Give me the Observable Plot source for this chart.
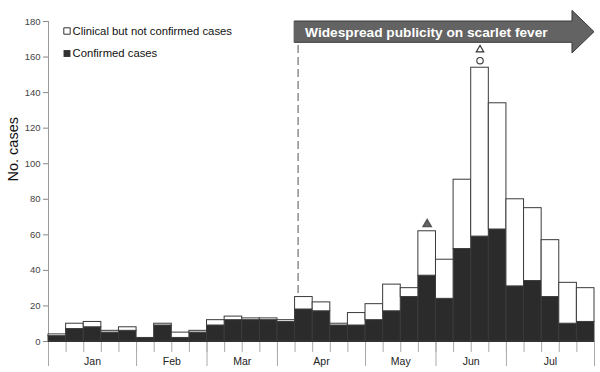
<!DOCTYPE html>
<html><head><meta charset="utf-8">
<script src="https://cdn.jsdelivr.net/npm/d3@7"></script>
<script src="https://cdn.jsdelivr.net/npm/@observablehq/plot@0.6"></script>
<style>
body{margin:0;background:#fff}
svg{display:block}
</style>
</head><body><div id="chart"></div>
<script>
// Weekly cases, January–July (31 weeks)
const confirmed    = [3,7,8,5,6,2,9,2,5,9,12,12,12,11,18,17,9,9,12,17,25,37,24,52,59,63,31,34,25,10,11];
const notConfirmed = [1,3,3,1,2,0,1,3,1,3,2,1,1,1,7,5,1,7,9,15,5,25,22,39,95,71,49,41,32,23,19];
const monthNames = ["Jan","Feb","Mar","Apr","May","Jun","Jul"];
const monthWeeks = [5,4,4,5,4,4,5];
const yTicks = [0,20,40,60,80,100,120,140,160,180];
const publicityWeek = 14;
const publicityLabel = "Widespread publicity on scarlet fever";
const legendLabels = ["Clinical but not confirmed cases","Confirmed cases"];
const yLabel = "No. cases";
const filledTriangleWeeks = [21];
const openTriangleWeeks = [24];
const circleWeeks = [24];

const n = confirmed.length;
const weeks = d3.range(n);
const total = weeks.map(i => confirmed[i] + notConfirmed[i]);
const weekBoundaries = d3.range(n + 1);
const monthBoundaries = [0, ...d3.cumsum(monthWeeks)];
const monthCenters = monthWeeks.map((w, i) => monthBoundaries[i] + w / 2);
const nameByCenter = new Map(monthCenters.map((c, i) => [c, monthNames[i]]));

// arrow geometry (data units)
const shaftLo = 168, shaftHi = 180, headLo = 162, headHi = 186, tipY = 174;
const headStart = n - 1.25;
const arrow = [
  {x: publicityWeek, y1: shaftLo, y2: shaftHi},
  {x: headStart, y1: shaftLo, y2: shaftHi},
  {x: headStart, y1: headLo, y2: headHi},
  {x: n, y1: tipY, y2: tipY}
];

const font = "'Liberation Sans', Arial, sans-serif";

const chart = Plot.plot({
  width: 600,
  height: 372,
  marginLeft: 48,
  marginRight: 6,
  marginTop: 21,
  marginBottom: 31,
  style: {fontFamily: font, background: "#fff"},
  x: {domain: [0, n]},
  y: {domain: [0, 180]},
  marks: [
    // axes
    Plot.axisY(yTicks, {tickSize: 5, tickPadding: 3, fontSize: 9.5, stroke: "#888", fill: "#444", label: null}),
    Plot.ruleX([0], {y1: 0, y2: 180, stroke: "#999"}),
    Plot.axisX(weekBoundaries, {tickSize: 11, tickFormat: () => "", stroke: "#aaa", label: null}),
    Plot.axisX(monthBoundaries, {tickSize: 25, tickFormat: () => "", stroke: "#aaa", label: null}),
    Plot.axisX(monthCenters, {tickSize: 0, tickPadding: 16, tickFormat: d => nameByCenter.get(d), fontSize: 10.5, fill: "#222", label: null}),
    Plot.text([yLabel], {frameAnchor: "left", dx: -35, rotate: -90, fontSize: 14.5, fill: "#111"}),
    // publicity dashed line
    Plot.ruleX([publicityWeek], {y1: 0, y2: shaftLo, dx: 3, stroke: "#555", strokeDasharray: "8,4"}),
    // bars
    Plot.rect(weeks, {x1: i => i, x2: i => i + 1, y1: i => 0, y2: i => confirmed[i], fill: "#2b2b2b", stroke: "#3a3a3a", strokeWidth: 1}),
    Plot.rect(weeks.filter(i => notConfirmed[i] > 0), {x1: i => i, x2: i => i + 1, y1: i => confirmed[i], y2: i => total[i], fill: "#fff", stroke: "#3a3a3a", strokeWidth: 1}),
    Plot.ruleY([0], {stroke: "#333"}),
    // markers
    Plot.dot(filledTriangleWeeks, {x: w => w + 0.5, y: w => total[w], dy: -7, symbol: "triangle", r: 3, fill: "#666", stroke: "#555"}),
    Plot.dot(openTriangleWeeks, {x: w => w + 0.5, y: w => total[w], dy: -18, symbol: "triangle", r: 2.8, fill: "#fff", stroke: "#333", strokeWidth: 1.1}),
    Plot.dot(circleWeeks, {x: w => w + 0.5, y: w => total[w], dy: -7, symbol: "circle", r: 3.2, fill: "#fff", stroke: "#333", strokeWidth: 1.1}),
    // arrow
    Plot.area(arrow, {x1: "x", y1: "y1", y2: "y2", fill: "#636363", stroke: "#3a3a3a", strokeWidth: 1, curve: "linear"}),
    Plot.text([publicityLabel], {x: publicityWeek, y: tipY, dx: 10, textAnchor: "start", fill: "#fff", fontWeight: "bold", fontSize: 13.7}),
    // legend
    Plot.dot([0], {frameAnchor: "top-left", dx: 18.5, dy: 9.5, symbol: "square", r: 3.6, fill: "#fff", stroke: "#333", strokeWidth: 1}),
    Plot.dot([0], {frameAnchor: "top-left", dx: 18.5, dy: 32, symbol: "square", r: 3.9, fill: "#333"}),
    Plot.text([legendLabels[0]], {frameAnchor: "top-left", dx: 24, dy: 9.5, textAnchor: "start", lineAnchor: "middle", fontSize: 11.3, fill: "#111"}),
    Plot.text([legendLabels[1]], {frameAnchor: "top-left", dx: 24, dy: 32, textAnchor: "start", lineAnchor: "middle", fontSize: 11.3, fill: "#111"})
  ]
});
document.getElementById("chart").appendChild(chart);
</script>
</body></html>
